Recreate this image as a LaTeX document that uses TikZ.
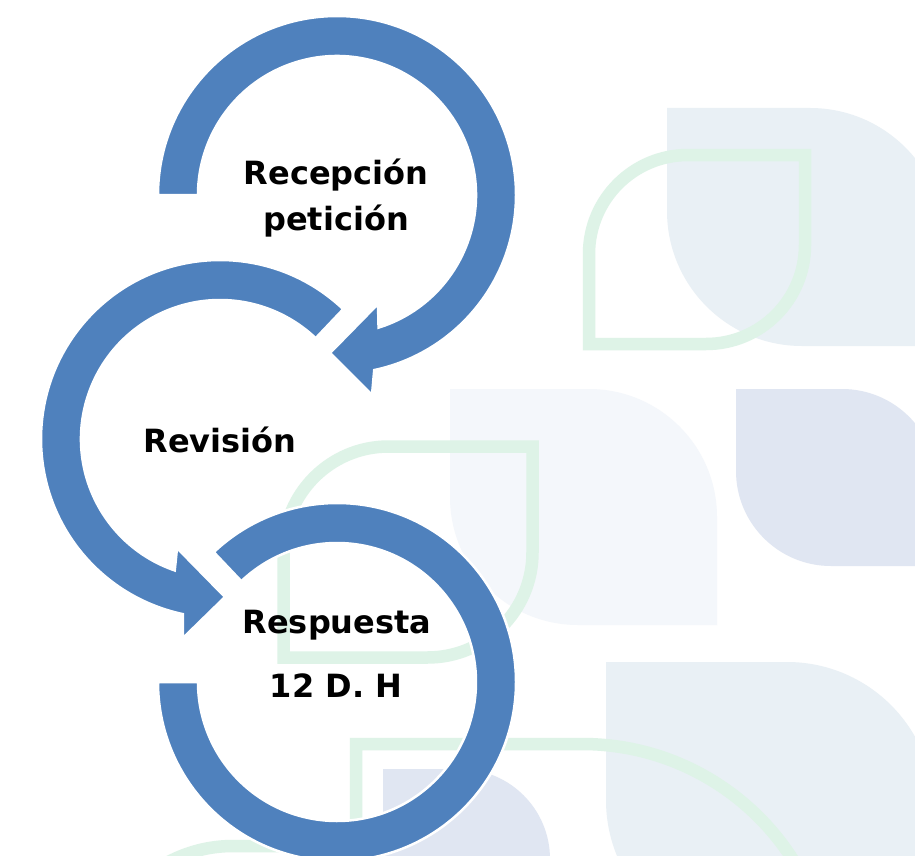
\documentclass[tikz,border=0pt]{standalone}
\usepackage{fontspec}
\setmainfont{DejaVu Sans}
\usetikzlibrary{calc}
\definecolor{arrowblue}{HTML}{4F81BD}
\definecolor{bgGrey}{HTML}{E9F0F5}
\definecolor{bgPale}{HTML}{F4F7FB}
\definecolor{bgLav}{HTML}{E0E6F2}
\definecolor{bgGreen}{HTML}{DEF3E7}
\tikzset{
  greenline/.style={draw=bgGreen, line width=12.5pt},
  circarrow/.style={fill=arrowblue, draw=white, line width=2.5pt, line join=miter},
  lbl/.style={inner sep=0pt, anchor=base, font=\fontsize{32}{38}\selectfont\bfseries}
}
\begin{document}
\begin{tikzpicture}[x=1pt,y=-1pt]
\useasboundingbox (0,0) rectangle (915,856);
\fill[white] (0,0) rectangle (915,856);
\begin{scope}
\clip (0,0) rectangle (915,856);
% background decorative shapes
\fill[bgGrey] (667,108) -- (810,108) arc[start angle=-90,end angle=0,radius=135] -- (945,346) -- (802,346) arc[start angle=90,end angle=180,radius=135] -- cycle;
\draw[greenline] (589,344) -- (589,254) arc[start angle=180,end angle=270,radius=99] -- (805,155) -- (805,245) arc[start angle=0,end angle=90,radius=99] -- cycle;
\fill[bgPale] (450,389) -- (589,389) arc[start angle=-90,end angle=0,radius=128] -- (717,625) -- (578,625) arc[start angle=90,end angle=180,radius=128] -- cycle;
\fill[bgLav] (736,389) -- (842,389) arc[start angle=-90,end angle=0,radius=95] -- (937,566) -- (831,566) arc[start angle=90,end angle=180,radius=95] -- cycle;
\draw[greenline] (283.5,657.5) -- (283.5,551.5) arc[start angle=180,end angle=270,radius=105] -- (532.5,446.5) -- (532.5,552.5) arc[start angle=0,end angle=90,radius=105] -- cycle;
\fill[bgGrey] (606,662) -- (787,662) arc[start angle=-90,end angle=0,radius=147] -- (934,947) -- (753,947) arc[start angle=90,end angle=180,radius=147] -- cycle;
\draw[greenline] (356,900) -- (356,744) -- (582,744) arc[start angle=-90,end angle=0,radius=250] -- (832,1000);
\draw[greenline] (95,1000) -- (95,984) arc[start angle=180,end angle=270,radius=138] -- (380,846) -- (380,1000);
\fill[bgLav] (383,900) -- (383,769) -- (460,769) arc[start angle=-90,end angle=0,radius=90] -- (550,900) -- cycle;
% circular arrows
\coordinate (c1) at (337,195);
\coordinate (c2) at (220,439);
\coordinate (c3) at (337,682);
\path[circarrow] ($(c1)+(180:179)$) arc[start angle=180,end angle=438,radius=179] -- (372,395) -- (330,353) -- (378,304) -- ($(c1)+(72.6:139)$) arc[start angle=432.6,end angle=180,radius=139] -- cycle;
\path[circarrow] ($(c2)+(-46.5:179)$) arc[start angle=-46.5,end angle=-258,radius=179] -- (183,638) -- (225,597) -- (177,548) -- ($(c2)+(-251:139)$) arc[start angle=-251,end angle=-46.5,radius=139] -- cycle;
\path[circarrow] ($(c3)+(180:179)$) arc[start angle=180,end angle=-133.5,radius=179] -- ($(c3)+(-133.5:139)$) arc[start angle=-133.5,end angle=180,radius=139] -- cycle;
\end{scope}
% labels
\node[lbl] (t1a) at (336,184) {Recepción};
\node[lbl] (t1b) at (336,230) {petición};
\node[lbl] (t2) at (220,452) {Revisión};
\node[lbl] (t3a) at (337,633) {Respuesta};
\node[lbl] (t3b) at (336,697) {12 D. H};
\end{tikzpicture}
\end{document}
